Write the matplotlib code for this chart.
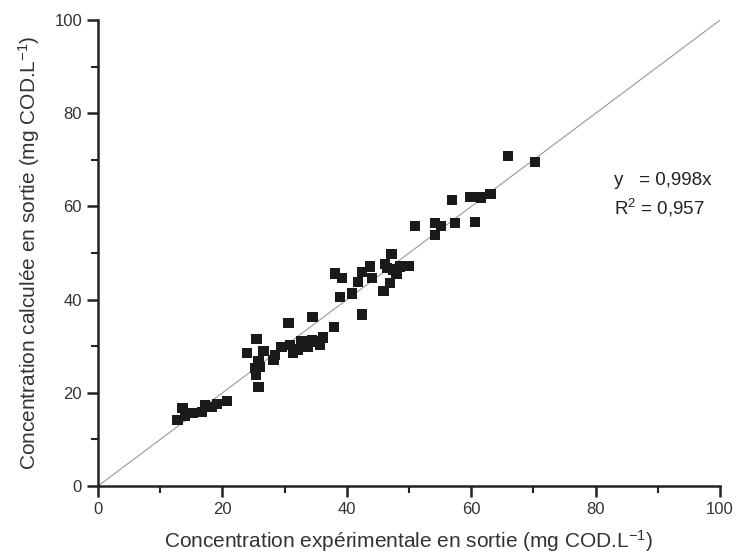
import matplotlib
matplotlib.use("Agg")
import matplotlib.pyplot as plt
from matplotlib.ticker import MultipleLocator

plt.rcParams['font.family'] = ['Liberation Sans', 'DejaVu Sans']
plt.rcParams['mathtext.default'] = 'regular'

# valeurs
exp_conc = [12.8, 13.6, 14.0, 15.3, 16.7, 17.2, 18.3, 19.1, 20.7, 25.8,
            25.4, 25.2, 26.0, 25.8, 23.9, 25.5, 26.6, 28.2, 28.5, 29.5,
            30.6, 30.9, 31.4, 32.2, 32.7, 33.8, 34.4, 34.5, 35.4, 35.7,
            36.2, 37.9, 38.9, 42.4, 40.8, 38.1, 39.2, 41.8, 42.4, 43.7,
            44.0, 45.9, 46.9, 46.1, 47.2, 47.5, 48.0, 48.6, 49.9, 46.5,
            51.0, 54.2, 54.2, 55.1, 57.4, 60.6, 56.9, 59.9, 61.6, 63.1,
            65.9, 70.3]
calc_conc = [14.2, 16.7, 15.0, 15.6, 15.9, 17.4, 17.0, 17.6, 18.3, 21.3,
             23.8, 25.3, 25.6, 26.7, 28.6, 31.5, 29.0, 27.0, 28.1, 29.9,
             35.0, 30.3, 28.5, 29.3, 31.0, 29.9, 31.3, 36.3, 31.0, 30.3,
             31.9, 34.2, 40.6, 36.8, 41.3, 45.6, 44.6, 43.8, 46.0, 47.1,
             44.6, 41.9, 43.6, 47.6, 49.8, 46.5, 45.6, 47.1, 47.2, 46.8,
             55.8, 56.4, 53.9, 55.8, 56.5, 56.7, 61.4, 62.1, 61.9, 62.7,
             70.8, 69.6]
ref_line = [0, 100]

fig = plt.figure(figsize=(7.37, 5.58), dpi=100)
ax = fig.add_axes([0.133, 0.129, 0.844, 0.835])

ax.plot(ref_line, ref_line, color='#999999', lw=0.8, zorder=1)
ax.scatter(exp_conc, calc_conc, marker='s', s=55, color='#1a1a1a',
           edgecolors='none', zorder=2)

ax.set_xlim(0, 100)
ax.set_ylim(0, 100)
ax.xaxis.set_major_locator(MultipleLocator(20))
ax.xaxis.set_minor_locator(MultipleLocator(10))
ax.yaxis.set_major_locator(MultipleLocator(20))
ax.yaxis.set_minor_locator(MultipleLocator(10))

for s in ['top', 'right']:
    ax.spines[s].set_visible(False)
for s in ['left', 'bottom']:
    ax.spines[s].set_linewidth(1.8)
    ax.spines[s].set_color('#222222')

ax.tick_params(which='major', direction='out', length=8, width=1.8,
               labelsize=12, colors='#222222', labelcolor='#333333')
ax.tick_params(which='minor', direction='out', length=5, width=1.5,
               colors='#222222')

ax.set_xlabel('Concentration expérimentale en sortie (mg COD.L$^{-1}$)',
              fontsize=15, color='#333333', labelpad=8)
ax.set_ylabel('Concentration calculée en sortie (mg COD.L$^{-1}$)',
              fontsize=15, color='#333333', labelpad=9)

ax.text(83, 65.5, 'y   = 0,998x', fontsize=13.5, color='#222222', va='center')
ax.text(83, 59.7, 'R$^{2}$ = 0,957', fontsize=13.5, color='#222222', va='center')

fig.savefig('out.png', dpi=100)
